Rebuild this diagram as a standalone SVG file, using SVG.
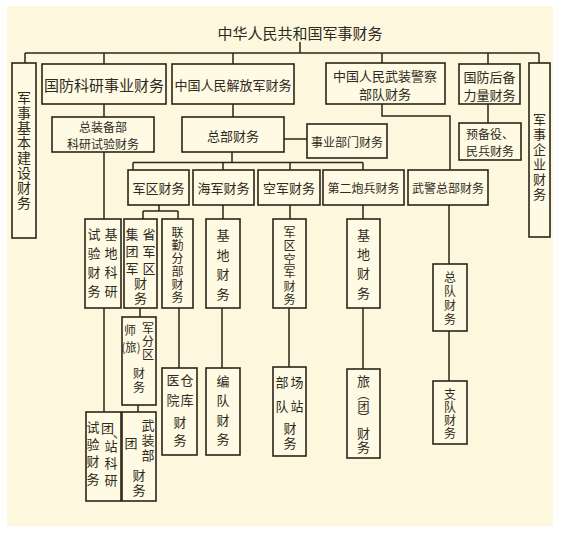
<svg xmlns="http://www.w3.org/2000/svg" width="561" height="533" viewBox="0 0 561 533">
<style>
.b{fill:#fefae4;stroke:#2b2518;stroke-width:1.6}
.c line,.c polyline{stroke:#2b2518;stroke-width:1.5;fill:none}
text{font-family:"Noto Sans CJK SC","Noto Sans",sans-serif;fill:#2e2a22;text-anchor:middle;dominant-baseline:central;font-size:13px}
.v{writing-mode:vertical-rl;text-orientation:mixed}
.s15{font-size:15px}
.s14{font-size:14px}
.s12{font-size:12px}
</style>
<rect x="0" y="0" width="561" height="533" fill="#ffffff"/>
<rect x="7" y="6" width="546" height="520" fill="#fdf8dd"/>
<text x="300" y="32" class="s15">中华人民共和国军事财务</text>
<g class="c">
<line x1="300" y1="42" x2="300" y2="53"/>
<line x1="25" y1="53" x2="539" y2="53"/>
<line x1="25" y1="53" x2="25" y2="63"/>
<line x1="104" y1="53" x2="104" y2="64"/>
<line x1="233" y1="53" x2="233" y2="64"/>
<line x1="382" y1="53" x2="382" y2="63"/>
<line x1="488" y1="53" x2="488" y2="64"/>
<line x1="539" y1="53" x2="539" y2="63"/>
<line x1="104" y1="104" x2="104" y2="117"/>
<line x1="104" y1="152" x2="104" y2="219"/>
<line x1="233" y1="104" x2="233" y2="117"/>
<line x1="284" y1="139" x2="307" y2="139"/>
<line x1="232" y1="152" x2="232" y2="162.5"/>
<line x1="133" y1="162.5" x2="363" y2="162.5"/>
<line x1="133" y1="162.5" x2="133" y2="170"/>
<line x1="223" y1="162.5" x2="223" y2="170"/>
<line x1="290" y1="162.5" x2="290" y2="170"/>
<line x1="363" y1="162.5" x2="363" y2="170"/>
<polyline points="382,104 382,116 450,116 450,170"/>
<line x1="488" y1="104" x2="488" y2="123"/>
<line x1="159" y1="205" x2="159" y2="211"/>
<line x1="143" y1="211" x2="178" y2="211"/>
<line x1="143" y1="211" x2="143" y2="219"/>
<line x1="178" y1="211" x2="178" y2="219"/>
<line x1="223" y1="205" x2="223" y2="219"/>
<line x1="290" y1="205" x2="290" y2="219"/>
<line x1="363" y1="205" x2="363" y2="219"/>
<line x1="449" y1="205" x2="449" y2="264"/>
<line x1="449" y1="331" x2="449" y2="381"/>
<line x1="140" y1="308" x2="140" y2="317"/>
<line x1="179" y1="308" x2="179" y2="368"/>
<line x1="222" y1="308" x2="222" y2="368"/>
<line x1="289" y1="308" x2="289" y2="367"/>
<line x1="363" y1="308" x2="363" y2="369"/>
<line x1="104" y1="308" x2="104" y2="412"/>
<line x1="138" y1="405" x2="138" y2="412"/>
</g>
<g id="n_jsjb"><rect class="b" x="12" y="63" width="24" height="175"/>
<text class="v s14" x="24" y="151" letter-spacing="1">军事基本建设财务</text></g>
<g id="n_gfky"><rect class="b" x="42" y="64" width="124" height="40"/><text x="104" y="84" class="s15">国防科研事业财务</text></g>
<g id="n_pla"><rect class="b" x="172" y="64" width="122" height="40"/><text x="233" y="84">中国人民解放军财务</text></g>
<g id="n_wj"><rect class="b" x="326" y="63" width="119" height="41"/><text x="385" y="75.5">中国人民武装警察</text><text x="385" y="93.5">部队财务</text></g>
<g id="n_gfhb"><rect class="b" x="459" y="64" width="61" height="40"/><text x="489.5" y="76">国防后备</text><text x="489.5" y="94">力量财务</text></g>
<g id="n_jsqy"><rect class="b" x="529" y="63" width="21" height="174"/>
<text class="v" x="539.5" y="158" letter-spacing="2">军事企业财务</text></g>
<g id="n_zzb"><rect class="b" x="52" y="117" width="102" height="35"/><text x="103" y="126" class="s12">总装备部</text><text x="103" y="143.5" class="s12">科研试验财务</text></g>
<g id="n_zb"><rect class="b" x="182" y="117" width="102" height="35"/><text x="233" y="135">总部财务</text></g>
<g id="n_sybm"><rect class="b" x="307" y="124" width="80" height="34"/><text x="347" y="141" class="s12">事业部门财务</text></g>
<g id="n_ybm"><rect class="b" x="459" y="123" width="62" height="37"/><text x="490" y="133" class="s12">预备役、</text><text x="490" y="150.5" class="s12">民兵财务</text></g>
<g id="n_jq"><rect class="b" x="128" y="170" width="61" height="35"/><text x="158.5" y="187">军区财务</text></g>
<g id="n_hj"><rect class="b" x="193" y="170" width="61" height="35"/><text x="223.5" y="187">海军财务</text></g>
<g id="n_kj"><rect class="b" x="258" y="170" width="62" height="35"/><text x="289" y="187">空军财务</text></g>
<g id="n_dep"><rect class="b" x="323" y="170" width="81" height="35"/><text x="363.5" y="187" class="s12">第二炮兵财务</text></g>
<g id="n_wjzb"><rect class="b" x="408" y="170" width="80" height="35"/><text x="448" y="187" class="s12">武警总部财务</text></g>
<g id="n_jdky"><rect class="b" x="85" y="219" width="36" height="89"/>
<text class="v" x="111" y="266" letter-spacing="6">基地科研</text>
<text class="v" x="94" y="266" letter-spacing="6">试验财务</text></g>
<g id="n_sjq"><rect class="b" x="124" y="219" width="33" height="89"/>
<text class="v" x="149" y="253" letter-spacing="4">省军区</text>
<text class="v" x="132" y="253" letter-spacing="4">集团军</text>
<text class="v" x="140.5" y="291.5" letter-spacing="2">财务</text></g>
<g id="n_lq"><rect class="b" x="162" y="219" width="31" height="89"/>
<text class="v s12" x="177.5" y="265" letter-spacing="1">联勤分部财务</text></g>
<g id="n_hjjd"><rect class="b" x="206" y="219" width="34" height="89"/>
<text class="v" x="223" y="268" letter-spacing="6.5">基地财务</text></g>
<g id="n_jqkj"><rect class="b" x="273" y="219" width="33" height="89"/>
<text class="v s12" x="289.5" y="266.5" letter-spacing="1.5">军区空军财务</text></g>
<g id="n_depjd"><rect class="b" x="347" y="219" width="33" height="89"/>
<text class="v" x="363.5" y="267" letter-spacing="6.3">基地财务</text></g>
<g id="n_zd"><rect class="b" x="433" y="264" width="34" height="67"/>
<text class="v s12" x="450" y="299" letter-spacing="2">总队财务</text></g>
<g id="n_shi"><rect class="b" x="122" y="317" width="34" height="88"/>
<text x="130" y="329" class="s12">师</text>
<text x="131" y="346" class="s12" textLength="19" lengthAdjust="spacingAndGlyphs">(旅)</text>
<text class="v s12" x="148" y="341.5" letter-spacing="1">军分区</text>
<text class="v s12" x="139" y="381" letter-spacing="2">财务</text></g>
<g id="n_ck"><rect class="b" x="162" y="368" width="35" height="87"/>
<text class="v" x="173" y="393.5" letter-spacing="7">医院</text>
<text class="v" x="187" y="393.5" letter-spacing="7">仓库</text>
<text class="v" x="180" y="433.5" letter-spacing="5">财务</text></g>
<g id="n_bd"><rect class="b" x="206" y="368" width="34" height="87"/>
<text class="v" x="223" y="413.5" letter-spacing="6.5">编队财务</text></g>
<g id="n_bc"><rect class="b" x="273" y="367" width="33" height="89"/>
<text class="v" x="282" y="399.5" letter-spacing="11">部队</text>
<text class="v" x="297" y="399.5" letter-spacing="11">场站</text>
<text class="v" x="290" y="436.5" letter-spacing="2">财务</text></g>
<g id="n_lv"><rect class="b" x="347" y="369" width="33" height="89"/>
<text x="363.5" y="380">旅</text>
<text class="v s12" x="363.5" y="406">（团）</text>
<text class="v" x="363.5" y="440.5" letter-spacing="1">财务</text></g>
<g id="n_zhd"><rect class="b" x="433" y="381" width="34" height="63"/>
<text class="v s12" x="450" y="414" letter-spacing="1">支队财务</text></g>
<g id="n_tz"><rect class="b" x="86" y="412" width="35" height="89"/>
<text class="v" x="93" y="455" letter-spacing="4.3">试验财务</text>
<text x="107.5" y="427">团</text>
<text x="119.2" y="431" font-size="10">、</text>
<text class="v" x="111" y="465" letter-spacing="4">站科研</text></g>
<g id="n_wzb"><rect class="b" x="122" y="412" width="34" height="89"/>
<text class="v" x="148" y="441" letter-spacing="2">武装部</text>
<text x="131" y="442">团</text>
<text class="v" x="139" y="483.5" letter-spacing="2">财务</text></g>
</svg>
